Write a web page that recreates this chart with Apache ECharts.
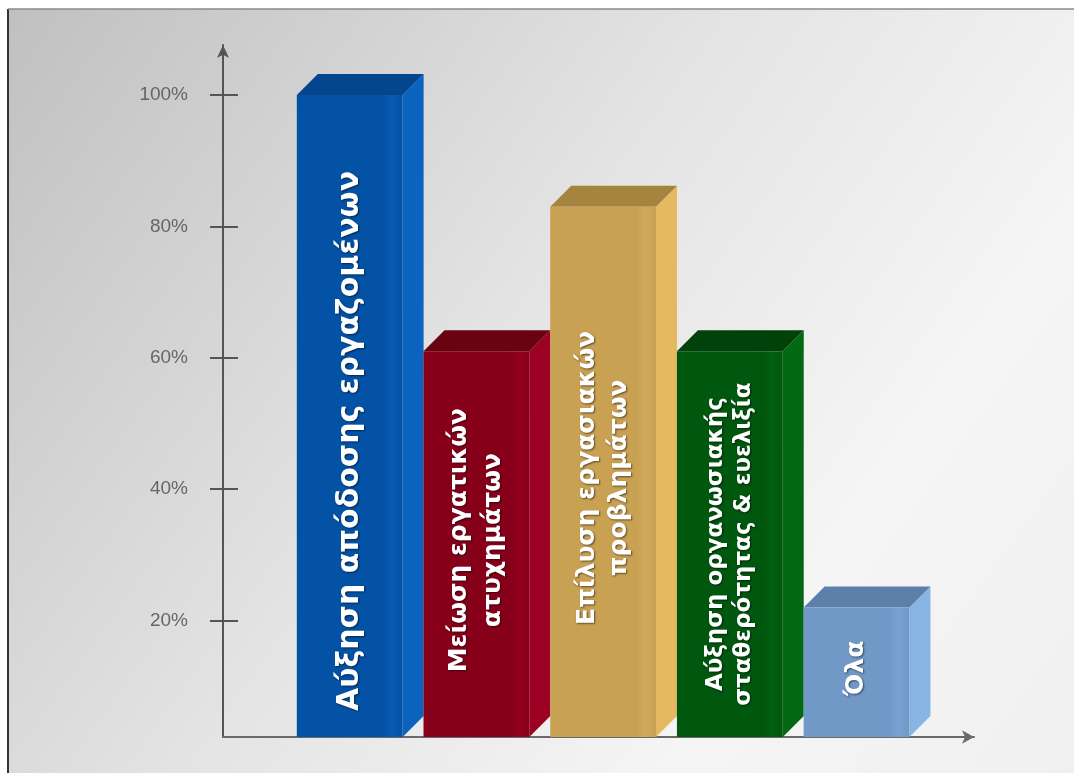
<!DOCTYPE html>
<html>
<head>
<meta charset="utf-8">
<script src="https://cdn.jsdelivr.net/npm/echarts@6/dist/echarts.min.js"></script>
<style>html,body{margin:0;padding:0;background:#fff}#c{width:1074px;height:773px}</style>
</head>
<body>
<div id="c"></div>
<script>
// ---- data ----
const categories = [
  'Αύξηση απόδοσης εργαζομένων',
  'Μείωση εργατικών\nατυχημάτων',
  'Επίλυση εργασιακών\nπροβλημάτων',
  'Αύξηση οργανωσιακής\nσταθερότητας & ευελιξία',
  'Όλα'
];
const values = [100, 61, 83, 61, 22];
const tickValues = [20, 40, 60, 80, 100];
const tickLabels = ['20%', '40%', '60%', '80%', '100%'];

// ---- styles ----
const faceColors = [
  { front: '#0352a6', frontHi: '#075bb3', top: '#04468e', side: '#0b63c0' },
  { front: '#86001a', frontHi: '#930020', top: '#690312', side: '#9c0022' },
  { front: '#c9a153', frontHi: '#d3aa5a', top: '#a4843f', side: '#e4b95f' },
  { front: '#00570e', frontHi: '#006010', top: '#00420a', side: '#036812' },
  { front: '#7199c8', frontHi: '#79a2d2', top: '#5c80a9', side: '#88b5e4' }
];
const labelFontSize = [30, 25, 25, 23, 25];
const labelLineHeight = [30, 34, 32, 28, 30];
const labelShift = [25, -4, 6, 0, -4];
const Y_MIN = 2.3, Y_MAX = 107.6;
const X_MIN = -1, X_MAX = 4.927;
const BAR_W = 0.835;
const DEPTH = 21;

const chart = echarts.init(document.getElementById('c'));

function renderItem(params, api) {
  const idx = params.dataIndex;
  const i = api.value(0);
  const v = api.value(1);
  const c = api.coord([i, v]);
  const base = api.coord([i, Y_MIN])[1];
  const w = api.size([BAR_W, 0])[0];
  const l = c[0] - w / 2, r = c[0] + w / 2, t = c[1], d = DEPTH;
  const col = faceColors[idx];
  return {
    type: 'group',
    children: [
      { type: 'polygon', shape: { points: [[r, t], [r + d, t - d], [r + d, base - d], [r, base]] },
        style: { fill: col.side } },
      { type: 'polygon', shape: { points: [[l, t], [l + d, t - d], [r + d, t - d], [r, t]] },
        style: { fill: col.top } },
      { type: 'rect', shape: { x: l, y: t, width: w, height: base - t },
        style: { fill: new echarts.graphic.LinearGradient(0, 0, 1, 0, [
          { offset: 0, color: col.front }, { offset: 0.82, color: col.front },
          { offset: 0.9, color: col.frontHi }, { offset: 1, color: col.front }]) } },
      { type: 'text', x: c[0], y: (t + base) / 2 + labelShift[idx], rotation: Math.PI / 2,
        style: { text: categories[idx], fill: '#ffffff', align: 'center', verticalAlign: 'middle',
          font: 'bold ' + labelFontSize[idx] + 'px "DejaVu Sans"', lineHeight: labelLineHeight[idx],
          textShadowColor: 'rgba(0,0,0,0.55)', textShadowBlur: 2, textShadowOffsetX: 1, textShadowOffsetY: 1 } }
    ]
  };
}

const tickStyle = { color: '#555', width: 2 };

chart.setOption({
  backgroundColor: '#ffffff',
  animation: false,
  graphic: [
    { type: 'rect', z: -100, shape: { x: 8, y: 9, width: 1066, height: 764 },
      style: { fill: new echarts.graphic.LinearGradient(0, 0, 1, 1, [
        { offset: 0, color: '#c0c0c0' }, { offset: 0.45, color: '#e4e4e4' },
        { offset: 0.75, color: '#f5f5f5' }, { offset: 1, color: '#f0f0f0' }]) } },
    { type: 'line', z: -99, shape: { x1: 8, y1: 9, x2: 8, y2: 773 }, style: { stroke: '#333', lineWidth: 2 } },
    { type: 'line', z: -99, shape: { x1: 8, y1: 9, x2: 1074, y2: 9 }, style: { stroke: '#8a8a8a', lineWidth: 1.5 } }
  ],
  grid: { left: 223, right: 100, top: 45, bottom: 36, containLabel: false, outerBoundsMode: 'none' },
  xAxis: {
    type: 'value', min: X_MIN, max: X_MAX,
    axisLine: { show: true, onZero: false, symbol: ['none', 'arrow'], symbolSize: [10, 12],
      lineStyle: { color: '#6a6a6a', width: 2 } },
    axisTick: { show: false }, axisLabel: { show: false }, splitLine: { show: false }
  },
  yAxis: [
    {
      type: 'value', min: Y_MIN, max: Y_MAX, position: 'left',
      axisLine: { show: true, onZero: false, symbol: ['none', 'arrow'], symbolSize: [9, 13],
        lineStyle: { color: '#555', width: 2 } },
      axisTick: { show: true, customValues: tickValues, length: 13, lineStyle: tickStyle },
      axisLabel: { show: true, customValues: tickValues, margin: 35, color: '#666', fontSize: 19,
        fontFamily: 'Liberation Sans',
        formatter: function (val) { const k = tickValues.indexOf(Math.round(val)); return k >= 0 ? tickLabels[k] : ''; } },
      splitLine: { show: false }
    },
    {
      type: 'value', min: Y_MIN, max: Y_MAX, position: 'left',
      axisLine: { show: false, onZero: false },
      axisTick: { show: true, inside: true, customValues: tickValues, length: 15, lineStyle: tickStyle },
      axisLabel: { show: false }, splitLine: { show: false }
    }
  ],
  series: [{
    type: 'custom',
    renderItem: renderItem,
    xAxisIndex: 0, yAxisIndex: 0,
    clip: false,
    data: values.map(function (v, i) { return [i, v]; })
  }]
});
</script>
</body>
</html>
